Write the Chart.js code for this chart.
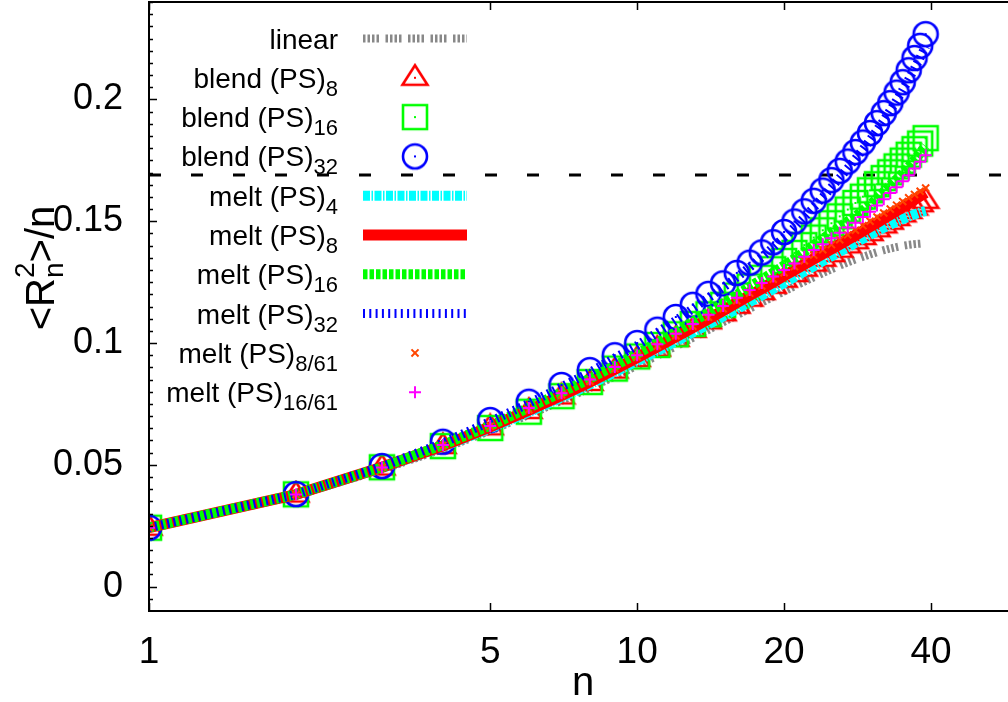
<!DOCTYPE html>
<html>
<head>
<meta charset="utf-8">
<script src="https://cdn.jsdelivr.net/npm/chart.js@4.4.1/dist/chart.umd.min.js"></script>
<style>
  html, body { margin: 0; padding: 0; background: #fff; overflow: hidden; }
  #wrap { width: 1030px; height: 702px; }
</style>
</head>
<body>
<div id="wrap"><canvas id="chart" width="1030" height="702"></canvas></div>
<script>
// chain length n (x axis, log scale)
const nValues = [1,2,3,4,5,6,7,8,9,10,11,12,13,14,15,16,17,18,19,20,21,22,23,24,25,26,27,28,29,30,31,32,33,34,35,36,37,38,39];
const xTicks = [1, 5, 10, 20, 40];
const yTicks = [0, 0.05, 0.1, 0.15, 0.2];
const refLevel = 0.169;

// <R_n^2>/n
const linearVals  = [.0242,.0375,.0480,.0565,.0640,.0705,.0763,.0815,.0863,.0907,.0948,.0986,.1021,.1054,.1085,.1114,.1141,.1166,.1190,.1212,.1233,.1252,.1270,.1287,.1303,.1318,.1331,.1343,.1354,.1364,.1373,.1381,.1388,.1394,.1399,.1403,.1406,.1408,.1410];
const blend8Vals  = [.0242,.0378,.0489,.0577,.0654,.0721,.0781,.0836,.0887,.0934,.0977,.1017,.1054,.1089,.1122,.1153,.1182,.1209,.1235,.1260,.1283,.1305,.1326,.1346,.1365,.1383,.1401,.1418,.1435,.1451,.1467,.1483,.1498,.1513,.1528,.1542,.1556,.1570,.1584];
const blend16Vals = [.0242,.0379,.0490,.0577,.0651,.0718,.0782,.0840,.0895,.0945,.0992,.1036,.1078,.1118,.1157,.1195,.1232,.1268,.1303,.1337,.1370,.1402,.1433,.1463,.1492,.1520,.1548,.1575,.1601,.1627,.1652,.1677,.1701,.1725,.1749,.1773,.1796,.1819,.1841];
const blend32Vals = [.0242,.0380,.0495,.0595,.0684,.0759,.0828,.0889,.0950,.1000,.1055,.1107,.1157,.1202,.1245,.1288,.1330,.1372,.1414,.1456,.1499,.1541,.1584,.1626,.1669,.1707,.1745,.1784,.1823,.1862,.1903,.1944,.1985,.2028,.2071,.2120,.2170,.2220,.2268];
const melt4Vals   = [.0242,.0377,.0487,.0574,.0650,.0716,.0776,.0830,.0880,.0926,.0968,.1007,.1043,.1077,.1109,.1139,.1168,.1195,.1221,.1246,.1270,.1293,.1315,.1336,.1356,.1375,.1393,.1411,.1428,.1444,.1459,.1473,.1486,.1498,.1509,.1519,.1528,.1536,.1543];
const melt8Vals   = [.0242,.0378,.0490,.0578,.0656,.0724,.0785,.0840,.0892,.0940,.0984,.1025,.1063,.1099,.1133,.1165,.1195,.1223,.1250,.1276,.1300,.1323,.1345,.1366,.1386,.1405,.1424,.1442,.1460,.1477,.1494,.1511,.1527,.1543,.1559,.1574,.1589,.1603,.1617];
const melt16Vals  = [.0242,.0379,.0490,.0582,.0661,.0735,.0797,.0854,.0907,.0956,.1002,.1046,.1087,.1126,.1163,.1198,.1231,.1261,.1290,.1318,.1346,.1374,.1403,.1428,.1453,.1477,.1499,.1520,.1544,.1567,.1594,.1620,.1647,.1672,.1697,.1723,.1751,.1780,.1808];
const melt32Vals  = [.0242,.0379,.0493,.0590,.0678,.0752,.0820,.0880,.0939,.0990,.1043,.1093,.1141,.1186,.1228,.1270,.1311,.1352,.1393,.1434,.1475,.1516,.1557,.1598,.1639,.1678,.1717,.1756,.1795,.1834,.1874,.1914,.1955,.1996,.2038,.2082,.2127,.2172,.2218];
const melt8_61Vals  = [.0242,.0378,.0490,.0579,.0658,.0726,.0788,.0843,.0895,.0944,.0988,.1030,.1069,.1106,.1141,.1174,.1205,.1234,.1262,.1289,.1314,.1338,.1361,.1383,.1404,.1424,.1444,.1463,.1482,.1500,.1517,.1534,.1550,.1566,.1581,.1596,.1610,.1623,.1636];
const melt16_61Vals = [.0242,.0378,.0489,.0581,.0659,.0733,.0794,.0850,.0902,.0950,.0995,.1038,.1078,.1116,.1152,.1186,.1218,.1246,.1273,.1300,.1327,.1354,.1382,.1406,.1430,.1453,.1474,.1494,.1517,.1539,.1565,.1590,.1616,.1640,.1664,.1689,.1716,.1744,.1771];

const FONT = '"Liberation Sans", Arial, sans-serif';

// open symbols with a dot in the middle, like the gnuplot ones
function marker(kind, color) {
  const s = 30, h = s / 2;
  const c = document.createElement('canvas');
  c.width = s; c.height = s;
  const ctx = c.getContext('2d');
  ctx.strokeStyle = color;
  ctx.fillStyle = color;
  ctx.lineWidth = 2.6;
  ctx.beginPath();
  if (kind === 'circle') {
    ctx.arc(h, h, 12, 0, Math.PI * 2);
  } else if (kind === 'square') {
    ctx.rect(h - 12, h - 12, 24, 24);
  } else if (kind === 'triangle') {
    ctx.moveTo(h, h - 12.5);
    ctx.lineTo(h + 12.5, h + 7);
    ctx.lineTo(h - 12.5, h + 7);
    ctx.closePath();
  }
  ctx.stroke();
  ctx.fillRect(h - 1, h - 1, 2, 2);
  return c;
}

const triMark = marker('triangle', '#ff0000');
const sqMark = marker('square', '#00ff00');
const circMark = marker('circle', '#0000ff');

function pts(vals) {
  return nValues.map((n, i) => ({ x: n, y: vals[i] }));
}

function lineSet(label, vals, color, width, dash) {
  return { label, data: pts(vals), borderColor: color, borderWidth: width, borderDash: dash,
           borderCapStyle: 'butt', borderJoinStyle: 'miter', pointRadius: 0, showLine: true, fill: false };
}
function pointSet(label, vals, style, color, radius, width) {
  return { label, data: pts(vals), showLine: false, pointStyle: style, pointRadius: radius,
           pointBorderColor: color, pointBackgroundColor: 'rgba(0,0,0,0)', pointBorderWidth: width };
}

// key rows: text and subscript
const legendRows = [
  { text: 'linear', sub: '' },
  { text: 'blend (PS)', sub: '8' },
  { text: 'blend (PS)', sub: '16' },
  { text: 'blend (PS)', sub: '32' },
  { text: 'melt (PS)', sub: '4' },
  { text: 'melt (PS)', sub: '8' },
  { text: 'melt (PS)', sub: '16' },
  { text: 'melt (PS)', sub: '32' },
  { text: 'melt (PS)', sub: '8/61' },
  { text: 'melt (PS)', sub: '16/61' }
];

const datasets = [
  lineSet('linear', linearVals, '#888888', 8, [2.5, 2, 2.5, 2, 2.5, 2, 2.5, 6.5]),
  pointSet('blend (PS)8', blend8Vals, triMark, '#ff0000', 12, 0),
  pointSet('blend (PS)16', blend16Vals, sqMark, '#00ff00', 12, 0),
  pointSet('blend (PS)32', blend32Vals, circMark, '#0000ff', 12, 0),
  lineSet('melt (PS)4', melt4Vals, '#00ffff', 10, [7, 1.5, 1.5, 1.5]),
  lineSet('melt (PS)8', melt8Vals, '#ff0000', 11, []),
  lineSet('melt (PS)16', melt16Vals, '#00ff00', 10, [4.5, 2]),
  lineSet('melt (PS)32', melt32Vals, '#0000ff', 9, [2, 4.3]),
  pointSet('melt (PS)8/61', melt8_61Vals, 'crossRot', '#ff4500', 5, 2),
  pointSet('melt (PS)16/61', melt16_61Vals, 'cross', '#ff00ff', 6, 2)
];
// later rows in the key are drawn on top
datasets.forEach((d, i) => { d.order = datasets.length - i; });
datasets.push({ label: 'ref', data: [{ x: 1, y: refLevel }, { x: 60, y: refLevel }], borderColor: '#000',
  borderWidth: 3, borderDash: [12, 30], borderCapStyle: 'butt', pointRadius: 0, showLine: true, order: 20 });

function richWidth(ctx, row, size, subSize) {
  ctx.font = size + 'px ' + FONT;
  let w = ctx.measureText(row.text).width;
  if (row.sub) { ctx.font = subSize + 'px ' + FONT; w += ctx.measureText(row.sub).width; }
  return w;
}

const decorPlugin = {
  id: 'decor',
  afterDatasetsDraw(chart) {
    const ctx = chart.ctx;
    const area = chart.chartArea;
    const xs = chart.scales.x, ys = chart.scales.y;
    ctx.save();
    ctx.strokeStyle = '#000';
    ctx.lineWidth = 2;
    // frame (right edge falls outside the picture)
    ctx.beginPath();
    ctx.moveTo(area.right, area.top);
    ctx.lineTo(area.left, area.top);
    ctx.lineTo(area.left, area.bottom);
    ctx.lineTo(area.right, area.bottom);
    ctx.stroke();
    // inward ticks
    ctx.lineWidth = 1.5;
    ctx.beginPath();
    for (let k = -1; k <= 48; k++) {
      const py = Math.round(ys.getPixelForValue(k * 0.005)) + 0.5;
      const len = (k % 10 === 0) ? 8 : 4;
      ctx.moveTo(area.left, py);
      ctx.lineTo(area.left + len, py);
    }
    xTicks.forEach(v => {
      const px = Math.round(xs.getPixelForValue(v)) + 0.5;
      ctx.moveTo(px, area.bottom);
      ctx.lineTo(px, area.bottom - 8);
      ctx.moveTo(px, area.top);
      ctx.lineTo(px, area.top + 8);
    });
    ctx.stroke();

    // key
    const textRight = 338, sx0 = 363, sx1 = 467, sxm = 415;
    ctx.fillStyle = '#000';
    ctx.textBaseline = 'alphabetic';
    legendRows.forEach((row, i) => {
      const cy = 38.5 + 39.3 * i;
      const base = cy + 10;
      const w = richWidth(ctx, row, 28, 22);
      let x = textRight - w;
      ctx.font = '28px ' + FONT;
      ctx.textAlign = 'left';
      ctx.fillText(row.text, x, base);
      x += ctx.measureText(row.text).width;
      if (row.sub) {
        ctx.font = '22px ' + FONT;
        ctx.fillText(row.sub, x, base + 8);
      }
      const ds = datasets[i];
      if (ds.showLine) {
        ctx.save();
        ctx.strokeStyle = ds.borderColor;
        ctx.lineWidth = ds.borderWidth;
        ctx.lineCap = 'butt';
        ctx.setLineDash(ds.borderDash || []);
        ctx.beginPath();
        ctx.moveTo(sx0, cy);
        ctx.lineTo(sx1, cy);
        ctx.stroke();
        ctx.restore();
      } else if (ds.pointStyle instanceof HTMLCanvasElement) {
        ctx.drawImage(ds.pointStyle, sxm - ds.pointStyle.width / 2, cy - ds.pointStyle.height / 2);
      } else {
        ctx.save();
        ctx.strokeStyle = ds.pointBorderColor;
        ctx.lineWidth = ds.pointBorderWidth;
        const r = ds.pointRadius;
        ctx.beginPath();
        if (ds.pointStyle === 'cross') {
          ctx.moveTo(sxm - r, cy); ctx.lineTo(sxm + r, cy);
          ctx.moveTo(sxm, cy - r); ctx.lineTo(sxm, cy + r);
        } else {
          const d = r * 0.7071;
          ctx.moveTo(sxm - d, cy - d); ctx.lineTo(sxm + d, cy + d);
          ctx.moveTo(sxm - d, cy + d); ctx.lineTo(sxm + d, cy - d);
        }
        ctx.stroke();
        ctx.restore();
      }
    });

    // axis titles
    ctx.font = '40px ' + FONT;
    ctx.textAlign = 'center';
    ctx.textBaseline = 'alphabetic';
    ctx.fillText('n', 583, 695);

    ctx.translate(54, 268);
    ctx.rotate(-Math.PI / 2);
    const parts = [
      { t: '<R', size: 40, dy: 0 },
      { t: 'n', size: 28, dy: 9 },
      { t: '2', size: 28, dy: -20, back: true },
      { t: '>/n', size: 40, dy: 0 }
    ];
    let prevW = 0;
    parts.forEach(p => {
      ctx.font = p.size + 'px ' + FONT;
      p.w = ctx.measureText(p.t).width;
    });
    const total = parts[0].w + Math.max(parts[1].w, parts[2].w) + parts[3].w;
    let x = -total / 2;
    ctx.textAlign = 'left';
    parts.forEach(p => {
      ctx.font = p.size + 'px ' + FONT;
      if (p.back) x -= prevW;
      ctx.fillText(p.t, x, p.dy);
      x += p.w;
      prevW = p.w;
    });
    ctx.restore();
  }
};

new Chart(document.getElementById('chart'), {
  type: 'scatter',
  data: { datasets },
  options: {
    responsive: false,
    animation: false,
    devicePixelRatio: 1,
    layout: { autoPadding: false, padding: { top: 2, right: 13, left: 0, bottom: 0 } },
    plugins: { legend: { display: false }, tooltip: { enabled: false } },
    scales: {
      x: {
        type: 'logarithmic',
        min: 1,
        max: 60,
        afterBuildTicks: s => { s.ticks = xTicks.map(v => ({ value: v })); },
        afterFit: s => { s.height = 91; s.paddingLeft = 0; s.paddingRight = 0; },
        grid: { display: false, drawTicks: false },
        border: { display: false },
        ticks: { callback: v => String(v), color: '#000', font: { family: FONT, size: 37 },
                 padding: 20, autoSkip: false, maxRotation: 0 }
      },
      y: {
        type: 'linear',
        min: -0.01,
        max: 0.24,
        afterBuildTicks: s => { s.ticks = yTicks.map(v => ({ value: v })); },
        afterFit: s => { s.width = 149; s.paddingTop = 0; s.paddingBottom = 0; },
        grid: { display: false, drawTicks: false },
        border: { display: false },
        ticks: { callback: v => String(v), color: '#000', font: { family: FONT, size: 36 }, padding: 26 }
      }
    }
  },
  plugins: [decorPlugin]
});
</script>
</body>
</html>
